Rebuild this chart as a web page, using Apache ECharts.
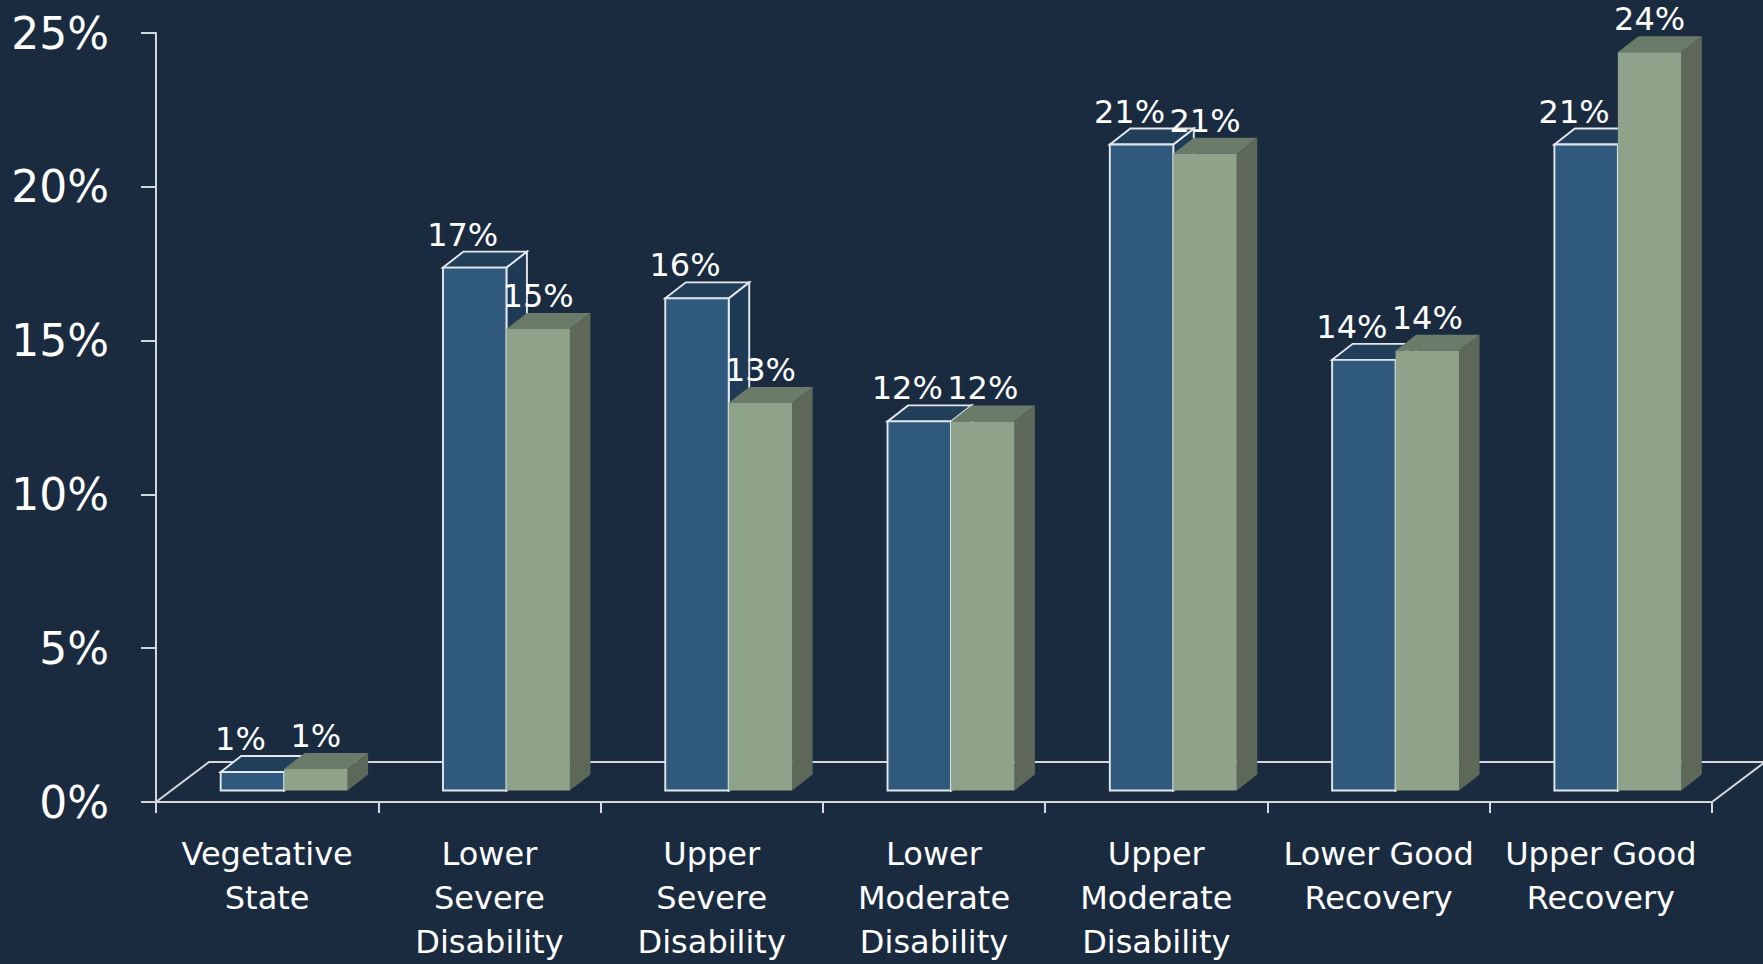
<!DOCTYPE html>
<html>
<head>
<meta charset="utf-8">
<title>Outcome distribution</title>
<script src="https://cdn.jsdelivr.net/npm/echarts@6/dist/echarts.min.js"></script>
<style>
  html, body { margin: 0; padding: 0; background: #1a2b3f; }
  #chart { width: 1763px; height: 964px; }
</style>
</head>
<body>
<div id="chart"></div>
<script>
// Outcome categories (front labels of the floor)
const categories = [
  'Vegetative\nState',
  'Lower\nSevere\nDisability',
  'Upper\nSevere\nDisability',
  'Lower\nModerate\nDisability',
  'Upper\nModerate\nDisability',
  'Lower Good\nRecovery',
  'Upper Good\nRecovery'
];

// Percent of patients per category, two groups
const groupBlue  = [0.6, 17.0, 16.0, 12.0, 21.0, 14.0, 21.0];
const groupGreen = [0.7, 15.0, 12.6, 12.0, 20.7, 14.3, 24.0];

// Value axis ticks (percent)
const yMin = 0;
const yMax = 25;
const yStep = 5;

// Pseudo-3D geometry, in pixels
const FLOOR_DX = 53, FLOOR_DY = -40;     // full floor depth
const FRONT_DX = 17, FRONT_DY = -11.5;   // bars' front face sits this deep on the floor
const DEPTH_DX = 20.5, DEPTH_DY = -16;   // bar thickness
const BAR_FRAC = 0.2855;                 // bar width as a share of the category band
const LABEL_GAP = 33;

const FONT = "'DejaVu Sans', Verdana, sans-serif";
const AXIS_COLOR = '#d4d8dc';

const palettes = [
  { front: '#2f5a7e', top: '#223f59', side: '#1f3a54', stroke: '#e4e8ec', lineWidth: 1.9, labelShift: -12 },
  { front: '#8fa38b', top: '#6b7b69', side: '#5d6858', stroke: null, lineWidth: 0, labelShift: 0 }
];

function barRenderer(slot) {
  const c = palettes[slot];
  return function (params, api) {
    const i = api.value(0);
    const v = api.value(1);
    const base = api.coord([i, 0]);
    const top = api.coord([i, v]);
    const band = api.size([1, 0])[0];
    const w = band * BAR_FRAC;
    const x0 = base[0] - w + slot * w + FRONT_DX;
    const x1 = x0 + w;
    const yb = base[1] + FRONT_DY;
    const yt = top[1] + FRONT_DY;
    const dx = DEPTH_DX, dy = DEPTH_DY;
    const st = c.stroke ? { stroke: c.stroke, lineWidth: c.lineWidth, lineJoin: 'miter' } : {};
    return {
      type: 'group',
      children: [
        { type: 'polygon', shape: { points: [[x1, yt], [x1 + dx, yt + dy], [x1 + dx, yb + dy], [x1, yb]] },
          style: Object.assign({ fill: c.side }, st) },
        { type: 'polygon', shape: { points: [[x0, yt], [x1, yt], [x1 + dx, yt + dy], [x0 + dx, yt + dy]] },
          style: Object.assign({ fill: c.top }, st) },
        { type: 'rect', shape: { x: x0, y: yt, width: w, height: yb - yt },
          style: Object.assign({ fill: c.front }, st) },
        { type: 'text', z2: 100, x: (x0 + x1) / 2 + c.labelShift, y: yt - LABEL_GAP,
          style: { text: Math.round(v) + '%', fill: '#ffffff', fontSize: 32, fontFamily: FONT,
                   align: 'center', verticalAlign: 'middle' } }
      ]
    };
  };
}

// Floor outline: back edge and the two side edges (front edge is the category axis)
function floorRenderer(params, api) {
  const band = api.size([1, 0])[0];
  const left = api.coord([0, 0]);
  const right = api.coord([categories.length - 1, 0]);
  const xl = left[0] - band / 2;
  const xr = right[0] + band / 2;
  const y0 = left[1];
  const ln = { stroke: AXIS_COLOR, lineWidth: 2, fill: null };
  return {
    type: 'group',
    children: [
      { type: 'polyline', shape: { points: [[xl, y0], [xl + FLOOR_DX, y0 + FLOOR_DY], [xr + FLOOR_DX, y0 + FLOOR_DY], [xr, y0]] },
        style: ln }
    ]
  };
}

const chart = echarts.init(document.getElementById('chart'), null, { renderer: 'svg' });

chart.setOption({
  backgroundColor: '#1a2b3f',
  animation: false,
  grid: { left: 156, right: 51, top: 33, bottom: 157, containLabel: false },
  xAxis: {
    type: 'category',
    data: categories,
    axisLine: { show: true, lineStyle: { color: AXIS_COLOR, width: 2 } },
    axisTick: { show: true, length: 11, alignWithLabel: false, lineStyle: { color: AXIS_COLOR, width: 2 } },
    axisLabel: { interval: 0, color: '#ffffff', fontSize: 32, fontFamily: FONT, lineHeight: 44, margin: 30 },
    splitLine: { show: false }
  },
  yAxis: {
    type: 'value',
    min: yMin,
    max: yMax,
    interval: yStep,
    axisLine: { show: true, lineStyle: { color: AXIS_COLOR, width: 2 } },
    axisTick: { show: true, length: 15, inside: false, lineStyle: { color: AXIS_COLOR, width: 2 } },
    axisLabel: { color: '#ffffff', fontSize: 44, fontFamily: FONT, margin: 47, formatter: '{value}%' },
    splitLine: { show: false }
  },
  series: [
    { type: 'custom', z: 1, renderItem: floorRenderer, data: [[0, 0]], silent: true },
    { type: 'custom', z: 2, renderItem: barRenderer(0), data: groupBlue.map((v, i) => [i, v]) },
    { type: 'custom', z: 2, renderItem: barRenderer(1), data: groupGreen.map((v, i) => [i, v]) }
  ]
});
</script>
</body>
</html>
